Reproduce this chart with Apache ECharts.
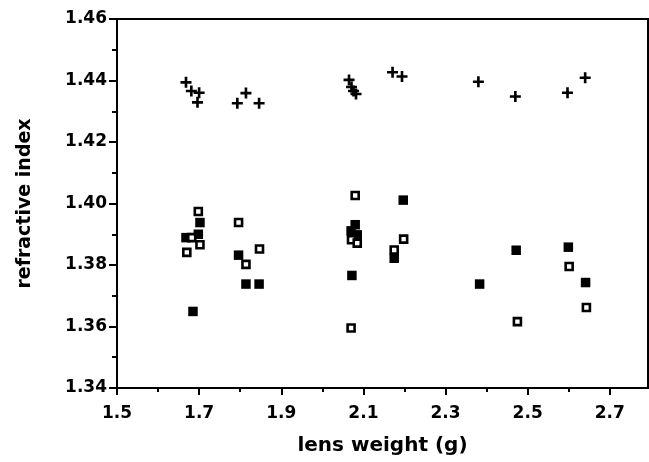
<!DOCTYPE html>
<html>
<head>
<meta charset="utf-8">
<script src="https://cdn.jsdelivr.net/npm/echarts@6/dist/echarts.min.js"></script>
<style>
html,body{margin:0;padding:0;background:#fff;}
#chart{width:649px;height:462px;}
</style>
</head>
<body>
<div id="chart"></div>
<script>
// "+" markers
const crossX = [1.668, 1.681, 1.700, 1.696, 1.793, 1.814, 1.846, 2.065, 2.071, 2.076, 2.082, 2.171, 2.194, 2.380, 2.470, 2.597, 2.640];
const crossY = [1.4394, 1.4366, 1.4360, 1.4329, 1.4326, 1.4359, 1.4326, 1.4402, 1.4379, 1.4366, 1.4356, 1.4427, 1.4413, 1.4396, 1.4348, 1.4360, 1.4409];
// open squares
const openX = [1.698, 1.682, 1.702, 1.670, 1.796, 1.814, 1.847, 2.080, 2.071, 2.085, 2.070, 2.175, 2.198, 2.475, 2.601, 2.643];
const openY = [1.3974, 1.3889, 1.3866, 1.3841, 1.3938, 1.3802, 1.3852, 1.4026, 1.3882, 1.3871, 1.3595, 1.3849, 1.3884, 1.3616, 1.3795, 1.3662];
// filled squares
const filledX = [1.702, 1.668, 1.698, 1.685, 1.796, 1.814, 1.846, 2.080, 2.070, 2.085, 2.072, 2.175, 2.197, 2.383, 2.472, 2.599, 2.641];
const filledY = [1.3938, 1.3889, 1.3900, 1.3649, 1.3832, 1.3738, 1.3738, 1.3931, 1.3911, 1.3898, 1.3766, 1.3822, 1.4011, 1.3738, 1.3848, 1.3858, 1.3743];
// axis ticks
const xMajorTicks = [1.5, 1.7, 1.9, 2.1, 2.3, 2.5, 2.7];
const xMinorTicks = [1.6, 1.8, 2.0, 2.2, 2.4, 2.6];
const xTitle = 'lens weight (g)';
const yTitle = 'refractive index';

function pairs(xs, ys) { return xs.map((x, i) => [x, ys[i]]); }

const FONT = 'DejaVu Sans';
const chart = echarts.init(document.getElementById('chart'), null, {renderer: 'canvas'});
const xCommon = {
  type: 'value', min: 1.5, max: 2.793, position: 'bottom',
  splitLine: {show: false}
};
chart.setOption({
  animation: false,
  backgroundColor: '#fff',
  grid: {left: 117, right: 1, top: 19, bottom: 74, show: true, borderColor: '#000', borderWidth: 2, backgroundColor: 'transparent'},
  xAxis: [
    Object.assign({}, xCommon, {
      name: xTitle, nameLocation: 'middle', nameGap: 48,
      nameTextStyle: {fontFamily: FONT, fontWeight: 'bold', fontSize: 20, color: '#000'},
      axisLine: {show: true, lineStyle: {color: '#000', width: 2}},
      axisTick: {show: true, customValues: xMajorTicks, length: 7, lineStyle: {color: '#000', width: 2}},
      axisLabel: {show: true, customValues: xMajorTicks, margin: 17, fontFamily: FONT, fontWeight: 'bold', fontSize: 17, color: '#000',
        formatter: v => v.toFixed(1)}
    }),
    Object.assign({}, xCommon, {
      axisLine: {show: false},
      axisTick: {show: true, customValues: xMinorTicks, length: 4, lineStyle: {color: '#000', width: 2}},
      axisLabel: {show: false}
    })
  ],
  yAxis: {
    type: 'value', min: 1.34, max: 1.46, interval: 0.02,
    name: yTitle, nameLocation: 'middle', nameGap: 82, nameRotate: 90,
    nameTextStyle: {fontFamily: FONT, fontWeight: 'bold', fontSize: 19, color: '#000', padding: [0, 0, 0, 0]},
    splitLine: {show: false},
    axisLine: {show: true, lineStyle: {color: '#000', width: 2}},
    axisTick: {show: true, length: 8, lineStyle: {color: '#000', width: 2}},
    minorTick: {show: true, splitNumber: 2, length: 5, lineStyle: {color: '#000', width: 2}},
    axisLabel: {margin: 10, fontFamily: FONT, fontWeight: 'bold', fontSize: 17, color: '#000',
      formatter: v => v.toFixed(2)}
  },
  series: [
    {
      name: 'filled', type: 'scatter', xAxisIndex: 0, data: pairs(filledX, filledY),
      symbol: 'rect', symbolSize: 9.5, itemStyle: {color: '#000', opacity: 1}, z: 2
    },
    {
      name: 'open', type: 'scatter', xAxisIndex: 0, data: pairs(openX, openY),
      symbol: 'rect', symbolSize: 7, itemStyle: {color: '#fff', borderColor: '#000', borderWidth: 2.6, opacity: 1}, z: 3
    },
    {
      name: 'cross', type: 'scatter', xAxisIndex: 0, data: pairs(crossX, crossY),
      symbol: 'path://M3.8,0H6.2V3.8H10V6.2H6.2V10H3.8V6.2H0V3.8H3.8Z', symbolSize: 11,
      itemStyle: {color: '#000', opacity: 1}, z: 4
    }
  ]
});
</script>
</body>
</html>
